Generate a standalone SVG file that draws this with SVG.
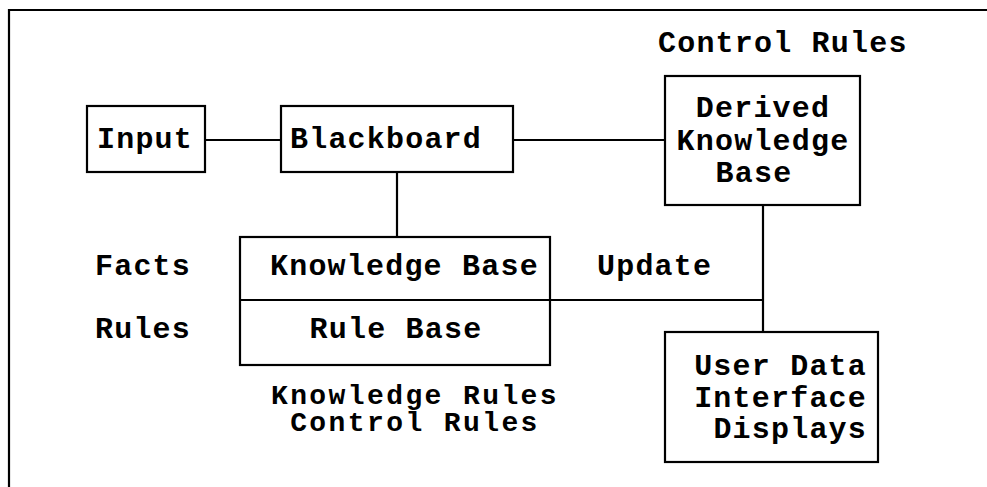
<svg xmlns="http://www.w3.org/2000/svg" width="987" height="487" viewBox="0 0 987 487">
<style>
.box{fill:#fff;stroke:#000;stroke-width:2.2}
.ln{fill:none;stroke:#000;stroke-width:2.2}
text{font-family:"Liberation Mono","Courier New",monospace;font-size:30px;letter-spacing:1.2px;font-weight:bold;fill:#000}
.c{text-anchor:middle}
.e{text-anchor:end}
.s{font-size:28px;letter-spacing:2.4px}
</style>
<rect width="987" height="487" fill="#fff"/>
<g id="frame"><path class="ln" d="M9,487 V10 H987"/></g>
<g id="connectors">
<line class="ln" x1="205" y1="140" x2="281" y2="140"/>
<line class="ln" x1="513" y1="140" x2="665" y2="140"/>
<line class="ln" x1="397" y1="172" x2="397" y2="237"/>
<line class="ln" x1="763" y1="205" x2="763" y2="332"/>
<line class="ln" x1="550" y1="300" x2="763" y2="300"/>
</g>
<g id="input"><rect class="box" x="87" y="106" width="118" height="66"/><text x="97" y="148">Input</text></g>
<g id="blackboard"><rect class="box" x="281" y="106" width="232" height="66"/><text x="290" y="148">Blackboard</text></g>
<g id="derived"><rect class="box" x="665" y="76" width="195" height="129"/>
<text class="c" x="763" y="117">Derived</text><text class="c" x="763" y="150">Knowledge</text><text class="c" x="754" y="182">Base</text></g>
<g id="kb"><rect class="box" x="240" y="237" width="310" height="128"/><line class="ln" x1="240" y1="300" x2="550" y2="300"/>
<text x="270" y="275">Knowledge Base</text><text class="c" x="396" y="338">Rule Base</text></g>
<g id="ui"><rect class="box" x="665" y="332" width="213" height="130"/>
<text class="e" x="867" y="375">User Data</text><text class="e" x="867" y="407">Interface</text><text class="e" x="867" y="438">Displays</text></g>
<g id="labels">
<text x="658" y="52">Control Rules</text>
<text x="597" y="275">Update</text>
<text x="95" y="275">Facts</text>
<text x="95" y="338">Rules</text>
<text class="c s" x="415" y="404">Knowledge Rules</text>
<text class="c s" x="415" y="431">Control Rules</text>
</g>
</svg>
